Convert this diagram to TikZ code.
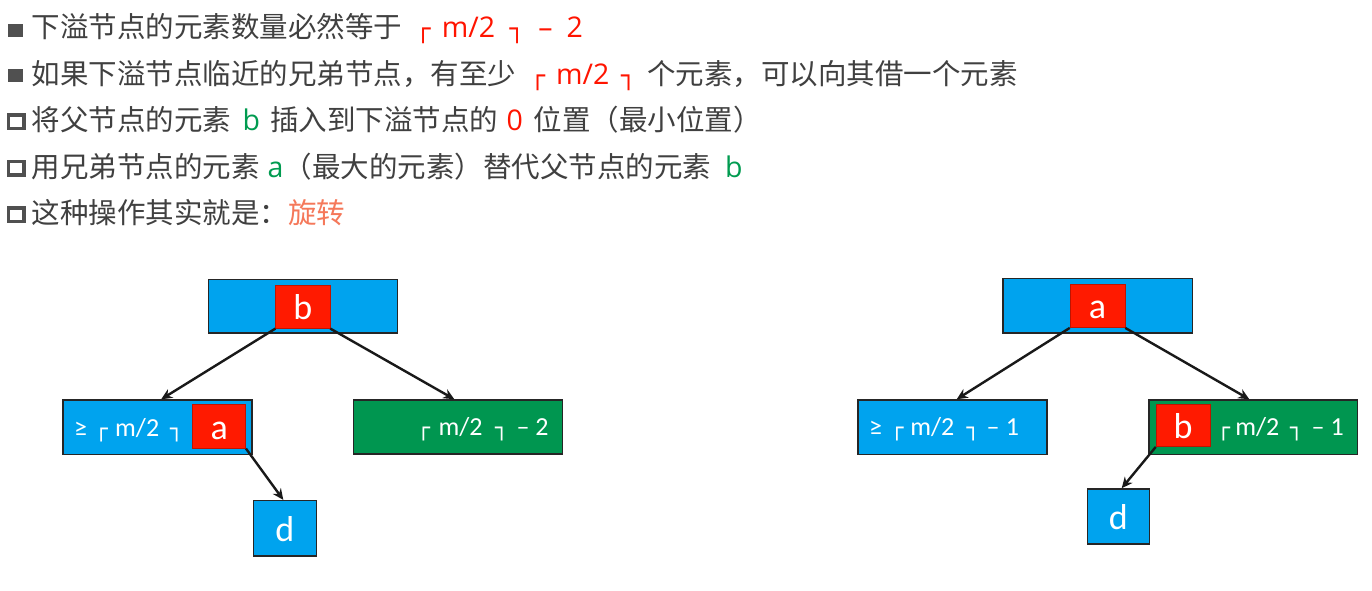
\documentclass[tikz,border=0pt]{standalone}
\usepackage{fontspec}
\setmainfont{Noto Sans CJK SC}
\newfontfamily\latf{Open Sans}
\newfontfamily\cbf{Carlito}
\newfontfamily\dvf{DejaVu Sans}
\usetikzlibrary{arrows.meta,calc}
\definecolor{txtgray}{RGB}{64,64,64}
\definecolor{txtred}{RGB}{255,20,0}
\definecolor{txtgreen}{RGB}{0,155,80}
\definecolor{txtorange}{RGB}{245,120,90}
\definecolor{boxblue}{RGB}{0,163,238}
\definecolor{boxgreen}{RGB}{0,150,80}
\definecolor{boxred}{RGB}{255,26,0}
\definecolor{bulgray}{RGB}{80,80,80}
\newcommand{\LCx}[1]{{\dvf\fontsize{#1}{#1}\selectfont ┌}}
\newcommand{\RCx}[1]{{\dvf\fontsize{#1}{#1}\selectfont ┐}}
\newcommand{\hs}[1]{\hspace*{#1pt}}
\newcommand{\mlsize}{\fontsize{28.5}{34}\selectfont}
\newcommand{\bxsize}{\cbf\fontsize{26}{30}\selectfont}
\tikzset{
  line/.style={anchor=base west, inner sep=0pt, text=txtgray, font=\mlsize},
  fbul/.style={fill=bulgray, draw=bulgray, line width=0.5pt, minimum width=14.5pt, minimum height=12.5pt, inner sep=0pt},
  hbul/.style={draw=bulgray, line width=3.6pt, minimum width=15.5pt, minimum height=13.5pt, inner sep=0pt},
  bluebox/.style={fill=boxblue, draw=black!85, line width=1.6pt, inner sep=0pt},
  greenbox/.style={fill=boxgreen, draw=black!85, line width=1.6pt, inner sep=0pt},
  redbox/.style={fill=boxred, draw=boxred!75!black, line width=0.5pt, inner sep=0pt, text=white, font=\cbf\fontsize{36}{40}\selectfont, text height=26pt, text depth=0pt},
  letter/.style={text=white, font=\cbf\fontsize{36}{40}\selectfont, text height=26pt, text depth=0pt},
  boxtxt/.style={anchor=base west, inner sep=0pt, text=white, font=\bxsize},
  arr/.style={-{Stealth[length=11pt,width=10pt]}, line width=2.4pt, draw=black!90},
}
\begin{document}
\begin{tikzpicture}[x=1pt,y=-1pt]
\useasboundingbox (0,0) rectangle (1372,590);
\fill[white] (0,0) rectangle (1372,590);

% bullets
\node[fbul] (b1) at (15,30) {};
\node[fbul] (b2) at (15,75) {};
\node[hbul] (b3) at (16.3,121.7) {};
\node[hbul] (b4) at (16.3,168.2) {};
\node[hbul] (b5) at (16.3,214.7) {};

% text lines
\node[line] (l1) at (31.5,37.5) {下溢节点的元素数量必然等于\hs{13.5}\textcolor{txtred}{\LCx{25}\hs{11.2}{\latf m/2}\hs{14.5}\RCx{25}\hs{13.5}{\latf –}\hs{14}{\latf 2}}};
\node[line] (l2) at (31.5,84) {如果下溢节点临近的兄弟节点，有至少\hs{13.8}\textcolor{txtred}{\LCx{25}\hs{11}{\latf m/2}\hs{11.7}\RCx{25}}\hs{11.3}个元素，可以向其借一个元素};
\node[line] (l3) at (31.5,130.5) {将父节点的元素\hs{11.5}\textcolor{txtgreen}{\latf b}\hs{10}插入到下溢节点的\hs{8.5}\textcolor{txtred}{\latf 0}\hs{10.7}位置（最小位置）};
\node[line] (l4) at (31.5,177) {用兄弟节点的元素\hs{8}\textcolor{txtgreen}{\latf a}（最大的元素）替代父节点的元素\hs{14}\textcolor{txtgreen}{\latf b}};
\node[line] (l5) at (31.5,223.5) {这种操作其实就是：\textcolor{txtorange}{旋转}};

% ---------- left tree ----------
\node[bluebox, minimum width=189pt, minimum height=53.4pt] (rootL) at (302.8,306) {};
\node[redbox, minimum width=54.3pt, minimum height=43.3pt] (rbL) at (302.85,306.65) {b};
\node[bluebox, minimum width=189pt, minimum height=54.3pt] (leftL) at (157.2,427.2) {};
\node[redbox, minimum width=53pt, minimum height=44pt] (raL) at (219.2,426.3) {a};
\node[greenbox, minimum width=209pt, minimum height=54pt] (rightL) at (457.8,427) {};
\node[bluebox, minimum width=63pt, minimum height=55.3pt, letter] (dL) at (284.8,528.3) {d};
\node[boxtxt] (tLL) at (74,436.7) {≥\hs{7.4}\LCx{22}\hs{7.4}m/2\hs{11}\RCx{22}};
\node[boxtxt] (tRL) at (416.7,435) {\LCx{22}\hs{8.5}m/2\hs{12.4}\RCx{22}\hs{8.4}–\hs{5.8}2};

\draw[arr] (rbL.south west) -- ($(leftL.north)+(4,0)$);
\draw[arr] (rbL.south east) -- ($(rightL.north)+(-3.5,0)$);
\draw[arr] (raL.south east) -- ($(dL.north)+(-1.5,0)$);

% ---------- right tree ----------
\node[bluebox, minimum width=189.6pt, minimum height=54.4pt] (rootR) at (1097.5,305.5) {};
\node[redbox, minimum width=55pt, minimum height=43.7pt] (raR) at (1097.5,305.8) {a};
\node[bluebox, minimum width=189pt, minimum height=54.3pt] (leftR) at (952.2,427.2) {};
\node[greenbox, minimum width=208.7pt, minimum height=54.3pt] (rightR) at (1253.3,427.2) {};
\node[redbox, minimum width=54pt, minimum height=42.7pt] (rbR) at (1183,425.3) {b};
\node[bluebox, minimum width=62pt, minimum height=55pt, letter] (dR) at (1118.3,516.5) {d};
\node[boxtxt] (tLR) at (869,435.7) {≥\hs{8.1}\LCx{22}\hs{6.8}m/2\hs{12.4}\RCx{22}\hs{6.8}–\hs{6.1}1};
\node[boxtxt] (tRR) at (1216.7,435.7) {\LCx{22}\hs{5.1}m/2\hs{10.8}\RCx{22}\hs{8.4}–\hs{6.1}1};

\draw[arr] (raR.south west) -- ($(leftR.north)+(4.5,0)$);
\draw[arr] (raR.south east) -- ($(rightR.north)+(-4,0)$);
\draw[arr] (rbR.south west) -- ($(dR.north)+(3.4,0)$);
\end{tikzpicture}
\end{document}
